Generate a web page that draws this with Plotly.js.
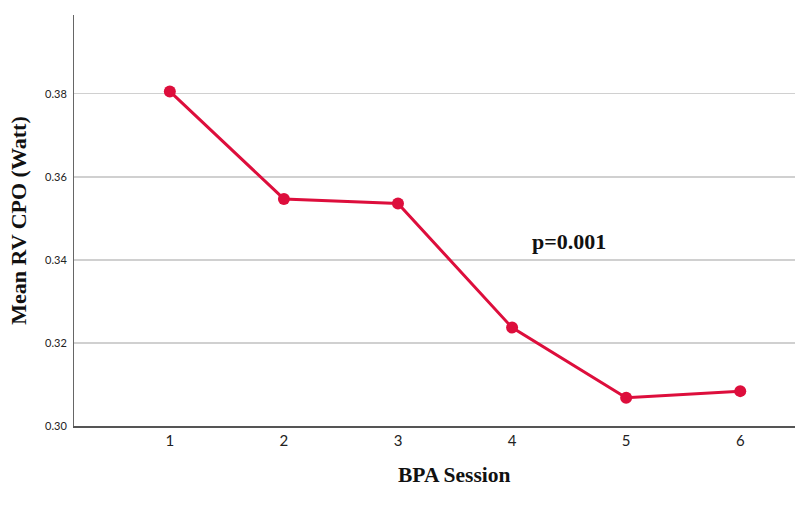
<!DOCTYPE html>
<html><head><meta charset="utf-8">
<script src="https://cdn.plot.ly/plotly-3.0.1.min.js"></script>
<style>html,body{margin:0;padding:0;background:#fff}#chart{width:802px;height:510px}</style>
</head><body><div id="chart"></div>
<script>
const sessions = [1, 2, 3, 4, 5, 6];
const meanCPO = [0.3806, 0.3547, 0.3536, 0.3237, 0.3068, 0.3084];
const yTicks = [0.30, 0.32, 0.34, 0.36, 0.38];
const yTickText = ['0.30', '0.32', '0.34', '0.36', '0.38'];
const pText = 'p=0.001';
const xTitle = 'BPA Session';

const serif = '"Liberation Serif", "Times New Roman", serif';
const trace = {
  x: sessions, y: meanCPO, type: 'scatter', mode: 'lines+markers',
  line: {color: '#DD0E3C', width: 3},
  marker: {color: '#DD0E3C', size: 12},
  hoverinfo: 'skip'
};
const layout = {
  width: 802, height: 510,
  margin: {l: 74, r: 7, t: 15, b: 84},
  paper_bgcolor: '#fff', plot_bgcolor: '#fff',
  showlegend: false,
  xaxis: {
    range: [0.16, 6.48], tickvals: sessions, ticktext: sessions.map(String),
    showgrid: false, zeroline: false, showline: true, linecolor: '#555', linewidth: 1.5,
    ticks: '', tickfont: {family: 'Lato, "Open Sans", sans-serif', size: 15, color: '#222'}
  },
  yaxis: {
    range: [0.30, 0.399], tickvals: yTicks, ticktext: yTickText,
    showgrid: true, gridcolor: '#d0d0d0', gridwidth: 1.2, zeroline: false,
    showline: true, linecolor: '#666', linewidth: 1,
    ticks: '', tickfont: {family: 'Lato, "Open Sans", sans-serif', size: 11, color: '#222'},
    ticklabelstandoff: 4,
    title: {text: '<b>Mean RV CPO (Watt)</b>', font: {family: serif, size: 22, color: '#111'}, standoff: 12}
  },
  annotations: [{
    x: 4.5, y: 0.3444, xref: 'x', yref: 'y', text: '<b>' + pText + '</b>', showarrow: false,
    font: {family: serif, size: 22, color: '#111'}
  }, {
    x: 0.528, y: -0.119, xref: 'paper', yref: 'paper', yanchor: 'middle', xanchor: 'center',
    text: '<b>' + xTitle + '</b>', showarrow: false,
    font: {family: serif, size: 21.5, color: '#111'}
  }]
};
Plotly.newPlot('chart', [trace], layout, {displayModeBar: false, staticPlot: true});
</script></body></html>
